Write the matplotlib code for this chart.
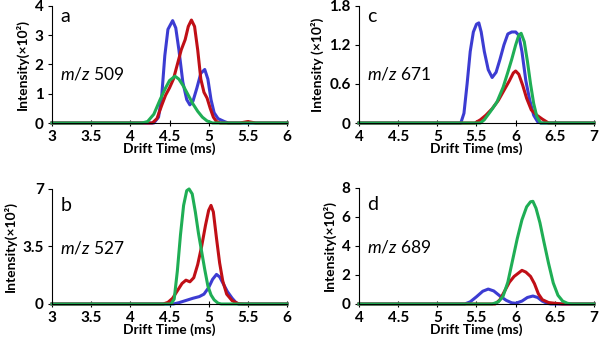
import matplotlib
matplotlib.use("Agg")
import matplotlib.pyplot as plt

plt.rcParams["mathtext.fontset"] = "custom"
plt.rcParams["mathtext.it"] = "Lato:italic"
plt.rcParams["mathtext.rm"] = "Lato"

# ---------------- data ----------------
# Panel a (m/z 509)
a_blue_x = [3, 4.30, 4.36, 4.40, 4.44, 4.48, 4.54, 4.58, 4.62, 4.67, 4.72, 4.76, 4.80, 4.85, 4.90, 4.95, 4.99, 5.03, 5.07, 5.12, 5.20, 5.25, 6]
a_blue_y = [0, 0, 0.2, 0.9, 2.3, 3.2, 3.5, 3.25, 2.5, 1.4, 0.8, 0.62, 0.75, 1.2, 1.7, 1.83, 1.5, 0.8, 0.35, 0.15, 0.05, 0, 0]
a_red_x = [3, 4.28, 4.34, 4.40, 4.45, 4.50, 4.55, 4.60, 4.65, 4.70, 4.74, 4.78, 4.82, 4.86, 4.90, 4.94, 4.98, 5.02, 5.06, 5.10, 5.15, 5.40, 5.50, 5.60, 6]
a_red_y = [0, 0, 0.15, 0.6, 0.95, 1.2, 1.5, 2.0, 2.5, 2.85, 3.3, 3.52, 3.3, 2.5, 1.5, 1.05, 0.85, 0.5, 0.2, 0.05, 0, 0, 0.05, 0, 0]
a_green_x = [3, 4.15, 4.22, 4.30, 4.38, 4.45, 4.50, 4.57, 4.62, 4.68, 4.74, 4.80, 4.86, 4.92, 4.98, 5.05, 6]
a_green_y = [0, 0, 0.05, 0.3, 0.8, 1.2, 1.45, 1.6, 1.5, 1.25, 0.95, 0.65, 0.4, 0.2, 0.07, 0, 0]

# Panel b (m/z 527)
b_blue_x = [3, 4.55, 4.62, 4.70, 4.80, 4.88, 4.94, 5.00, 5.05, 5.10, 5.14, 5.19, 5.24, 5.30, 5.35, 5.38, 6]
b_blue_y = [0, 0, 0.08, 0.2, 0.35, 0.45, 0.6, 1.0, 1.5, 1.8, 1.65, 1.2, 0.75, 0.35, 0.08, 0, 0]
b_red_x = [3, 4.42, 4.48, 4.54, 4.60, 4.66, 4.71, 4.76, 4.81, 4.86, 4.91, 4.96, 5.00, 5.03, 5.06, 5.10, 5.14, 5.18, 5.23, 5.30, 5.38, 5.45, 6]
b_red_y = [0, 0, 0.1, 0.35, 0.8, 1.25, 1.45, 1.35, 1.6, 2.4, 3.5, 4.8, 5.7, 6.0, 5.6, 4.0, 2.5, 1.4, 0.6, 0.2, 0.02, 0, 0]
b_green_x = [3, 4.52, 4.56, 4.60, 4.64, 4.68, 4.72, 4.75, 4.79, 4.83, 4.87, 4.91, 4.95, 4.99, 5.03, 5.07, 5.12, 5.16, 6]
b_green_y = [0, 0, 0.3, 2.0, 4.2, 6.0, 6.9, 7.0, 6.7, 5.6, 4.3, 3.2, 2.1, 1.1, 0.55, 0.25, 0.05, 0, 0]

# Panel c (m/z 671)
c_blue_x = [4, 5.30, 5.34, 5.38, 5.42, 5.46, 5.50, 5.53, 5.56, 5.60, 5.65, 5.70, 5.75, 5.80, 5.85, 5.90, 5.95, 6.00, 6.04, 6.08, 6.13, 6.18, 6.23, 6.28, 6.32, 7]
c_blue_y = [0, 0, 0.15, 0.6, 1.1, 1.4, 1.52, 1.54, 1.4, 1.1, 0.82, 0.70, 0.78, 0.98, 1.2, 1.37, 1.40, 1.40, 1.35, 1.1, 0.65, 0.35, 0.12, 0.02, 0, 0]
c_red_x = [4, 5.48, 5.55, 5.62, 5.70, 5.78, 5.85, 5.92, 5.97, 6.00, 6.04, 6.09, 6.14, 6.20, 6.27, 6.34, 6.42, 7]
c_red_y = [0, 0, 0.05, 0.12, 0.22, 0.35, 0.5, 0.65, 0.77, 0.80, 0.75, 0.58, 0.38, 0.2, 0.12, 0.06, 0, 0]
c_green_x = [4, 5.55, 5.60, 5.68, 5.76, 5.84, 5.90, 5.95, 6.00, 6.04, 6.07, 6.11, 6.15, 6.19, 6.23, 6.27, 6.32, 7]
c_green_y = [0, 0, 0.05, 0.18, 0.32, 0.55, 0.78, 0.98, 1.2, 1.35, 1.38, 1.25, 0.95, 0.6, 0.3, 0.1, 0, 0]

# Panel d (m/z 689)
d_blue_x = [4, 5.35, 5.42, 5.50, 5.58, 5.65, 5.72, 5.80, 5.88, 5.95, 6.00, 6.08, 6.15, 6.22, 6.28, 6.34, 6.40, 6.45, 7]
d_blue_y = [0, 0, 0.15, 0.5, 0.88, 1.03, 0.9, 0.55, 0.25, 0.08, 0.05, 0.2, 0.45, 0.55, 0.45, 0.2, 0.05, 0, 0]
d_red_x = [4, 5.74, 5.80, 5.86, 5.92, 5.98, 6.04, 6.08, 6.13, 6.19, 6.24, 6.29, 6.34, 6.42, 6.50, 6.60, 7]
d_red_y = [0, 0, 0.3, 0.9, 1.5, 1.9, 2.15, 2.32, 2.2, 1.9, 1.4, 0.7, 0.3, 0.1, 0.05, 0, 0]
d_green_x = [4, 5.70, 5.78, 5.84, 5.90, 5.96, 6.02, 6.08, 6.14, 6.19, 6.22, 6.26, 6.31, 6.36, 6.42, 6.48, 6.54, 6.60, 6.66, 6.72, 7]
d_green_y = [0, 0, 0.15, 0.55, 1.5, 3.0, 4.5, 5.8, 6.7, 7.05, 7.08, 6.6, 5.6, 4.3, 2.8, 1.45, 0.6, 0.2, 0.05, 0, 0]

# tick labels
ab_xticks = [3, 3.5, 4, 4.5, 5, 5.5, 6]
cd_xticks = [4, 4.5, 5, 5.5, 6, 6.5, 7]
a_yticks = [0, 1, 2, 3, 4]
b_yticks = [0, 3.5, 7]
c_yticks = [0, 0.6, 1.2, 1.8]
d_yticks = [0, 2, 4, 6, 8]

BLUE = "#3c3cd2"
RED = "#c00f16"
GREEN = "#1fae55"
FONT = "Lato"

fig = plt.figure(figsize=(6.0, 3.46), dpi=100)

panels = [
    ([0.0867, 0.6445, 0.3916, 0.3382], (a_blue_x, a_blue_y, a_red_x, a_red_y, a_green_x, a_green_y),
     ab_xticks, a_yticks, "Intensity(×10²)", "a", "509"),
    ([0.5983, 0.6445, 0.3917, 0.3382], (c_blue_x, c_blue_y, c_red_x, c_red_y, c_green_x, c_green_y),
     cd_xticks, c_yticks, "Intensity (×10²)", "c", "671"),
    ([0.0867, 0.1214, 0.3916, 0.3324], (b_blue_x, b_blue_y, b_red_x, b_red_y, b_green_x, b_green_y),
     ab_xticks, b_yticks, "Intensity(×10²)", "b", "527"),
    ([0.5983, 0.1214, 0.3917, 0.3353], (d_blue_x, d_blue_y, d_red_x, d_red_y, d_green_x, d_green_y),
     cd_xticks, d_yticks, "Intensity(×10²)", "d", "689"),
]

for rect, s, xt, yt, ylab, letter, mz in panels:
    ax = fig.add_axes(rect)
    bx, by, rx, ry, gx, gy = s
    for xx, yy, c in ((bx, by, BLUE), (rx, ry, RED), (gx, gy, GREEN)):
        ax.plot(xx, yy, color=c, lw=2.2, solid_joinstyle="round", clip_on=False)
    ax.set_xlim(xt[0], xt[-1])
    ax.set_ylim(0, yt[-1])
    ax.set_xticks(xt)
    ax.set_xticklabels([f"{v:g}" for v in xt], fontsize=11, fontweight="bold", family=FONT)
    ax.set_yticks(yt)
    ax.set_yticklabels([f"{v:g}" for v in yt], fontsize=11, fontweight="bold", family=FONT)
    ax.tick_params(axis="x", direction="inout", length=4, width=0.8, pad=3, colors="#000000")
    ax.tick_params(axis="y", direction="out", length=3, width=0.8, pad=3)
    for sp in ("top", "right"):
        ax.spines[sp].set_visible(False)
    ax.spines["left"].set_linewidth(0.8)
    ax.spines["bottom"].set_linewidth(0.8)
    ax.set_xlabel("Drift Time (ms)", fontsize=10, fontweight="bold", family=FONT, labelpad=-1)
    ax.set_ylabel(ylab, fontsize=10, fontweight="bold", family=FONT, labelpad=4)
    ax.text(0.035, 0.98 if letter in "ac" else 0.93, letter, transform=ax.transAxes,
            fontsize=14, family=FONT, va="top", ha="left")
    ax.text(0.035, 0.415 if letter in "ac" else 0.49, f"$m/z$ {mz}", transform=ax.transAxes,
            fontsize=12.5, family=FONT, va="center", ha="left")

fig.savefig("out.png", dpi=100)
